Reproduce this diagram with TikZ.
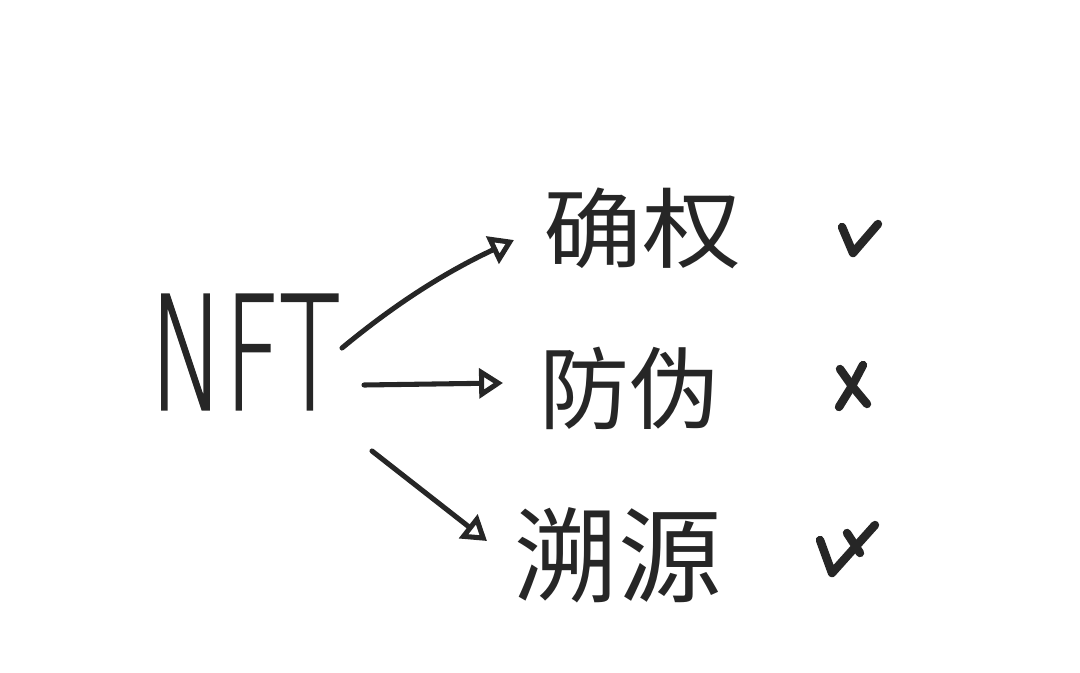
\documentclass[tikz,border=0pt]{standalone}
\usepackage{fontspec}
\setmainfont{Liberation Sans}
\newfontfamily\cjk{Noto Sans CJK SC}
\newfontfamily\thinfont[FakeBold=1.5]{DejaVu Sans ExtraLight}
\usetikzlibrary{arrows.meta}
\definecolor{ink}{HTML}{262626}
\tikzset{
  hand/.style={ink, text=ink, inner sep=0pt},
  big/.style={hand, font=\thinfont\fontsize{112}{112}\selectfont},
  cn/.style={hand, font=\cjk\fontsize{64}{64}\selectfont},
  conn/.style={ink, line width=3.6pt, line cap=round,
    -{Triangle[open, length=17pt, width=21pt, line width=3.6pt]}},
  tick/.style={ink, line width=6pt, line cap=round, line join=round}
}
\begin{document}
\begin{tikzpicture}[x=0.025cm, y=-0.025cm]
\useasboundingbox (0,0) rectangle (1080,672);
% main node
\node[big] (nft) at (245,352) {\scalebox{0.63}[1]{NFT}};
% targets
\node[cn] (t1) at (642,228) {\scalebox{1.1}[0.97]{确权}};
\node[cn] (t2) at (629,388) {防伪};
\node[cn] (t3) at (618,555) {\scalebox{1.15}[1.15]{溯源}};
% connector ends
\coordinate (s1) at (342,348);
\coordinate (e1) at (514,240);
\coordinate (s2) at (364,385);
\coordinate (e2) at (503,383);
\coordinate (s3) at (372,451);
\coordinate (e3) at (487,541);
\draw[conn] (s1) .. controls (400,300) and (450,270) .. (e1);
\draw[conn] (s2) -- (e2);
\draw[conn] (s3) -- (e3);
% marks
\coordinate (m1) at (853,253);
\draw[tick] (842,227) -- (m1) -- (878,224);
\coordinate (m2) at (852,386);
\draw[tick] (839,407) -- (m2) -- (863,365);
\draw[tick] (840,369) -- (m2) -- (867,404);
\coordinate (m3) at (832,573);
\draw[tick] (820,540) -- (m3) -- (875,525);
\draw[tick] (847,533) -- (860,553);
\end{tikzpicture}
\end{document}
